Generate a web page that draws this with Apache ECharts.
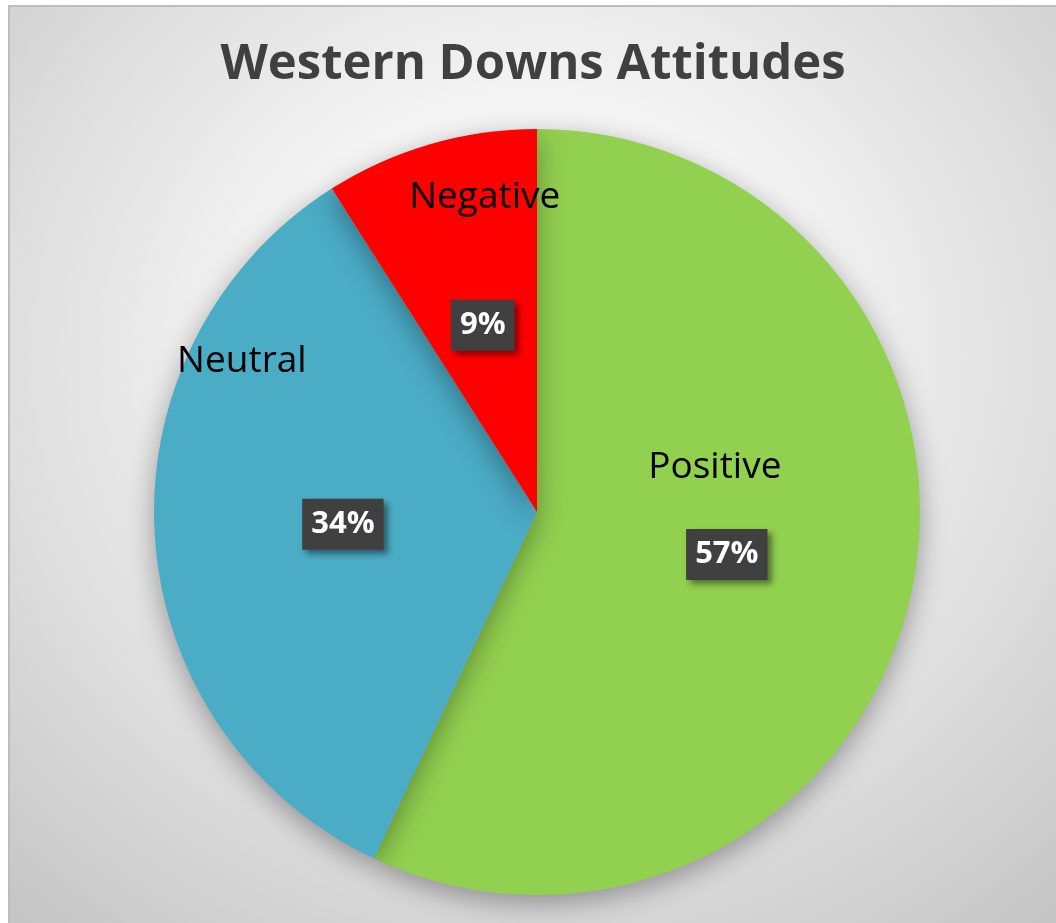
<!DOCTYPE html>
<html>
<head>
<meta charset="utf-8">
<script src="https://cdn.jsdelivr.net/npm/echarts@6/dist/echarts.min.js"></script>
<style>
  html, body { margin: 0; padding: 0; background: #fff; }
  .frame {
    position: absolute;
    left: 8px;
    top: 5px;
    width: 1048px;
    height: 918px;
    box-sizing: border-box;
    border-top: 2px solid #bdbdbd;
    border-left: 2px solid #bdbdbd;
    background: radial-gradient(ellipse 75% 80% at 50% 38%, #ffffff 0%, #f4f4f4 35%, #dcdcdc 70%, #c6c6c6 100%);
  }
  #chart { width: 1046px; height: 916px; }
</style>
</head>
<body>
<div class="frame"><div id="chart"></div></div>
<script>
const titleText = 'Western Downs Attitudes'
const categories = ['Positive', 'Neutral', 'Negative']
const values = [57, 34, 9]
const sliceColors = ['#92d050', '#4bacc6', '#ff0000']
// where Excel put the category names, relative to the default inside spot
const nameOffsets = [[-12, -87], [-101, -163], [2, -128]]

const chart = echarts.init(document.getElementById('chart'))

const center = [527, 505]
const radius = 383

const option = {
  title: {
    text: titleText,
    left: 'center',
    top: 29,
    textStyle: {
      fontFamily: 'Open Sans',
      fontWeight: 'bold',
      fontSize: 49,
      color: '#404040'
    }
  },
  series: [
    {
      type: 'pie',
      center: center,
      radius: radius,
      startAngle: 90,
      clockwise: true,
      silent: true,
      data: categories.map((name, i) => ({
        name: name,
        value: values[i],
        itemStyle: { color: sliceColors[i] },
        label: { offset: nameOffsets[i] }
      })),
      itemStyle: {
        shadowBlur: 28,
        shadowOffsetY: 8,
        shadowColor: 'rgba(0, 0, 0, 0.35)'
      },
      label: {
        position: 'inside',
        formatter: '{b}',
        fontFamily: 'Open Sans',
        fontSize: 37,
        color: '#000'
      },
      labelLine: { show: false }
    },
    {
      type: 'pie',
      center: center,
      radius: radius,
      startAngle: 90,
      clockwise: true,
      silent: true,
      data: categories.map((name, i) => ({ name: name, value: values[i] })),
      itemStyle: { color: 'rgba(0,0,0,0)' },
      label: {
        position: 'inside',
        formatter: '{d}%',
        fontFamily: 'Open Sans',
        fontWeight: 'bold',
        fontSize: 31,
        color: '#fff',
        backgroundColor: '#404040',
        padding: [11, 9, 9, 9],
        shadowColor: 'rgba(0, 0, 0, 0.45)',
        shadowBlur: 6,
        shadowOffsetX: 4,
        shadowOffsetY: 4
      },
      labelLine: { show: false }
    }
  ]
}

chart.setOption(option)
window.addEventListener('resize', () => chart.resize())
</script>
</body>
</html>
